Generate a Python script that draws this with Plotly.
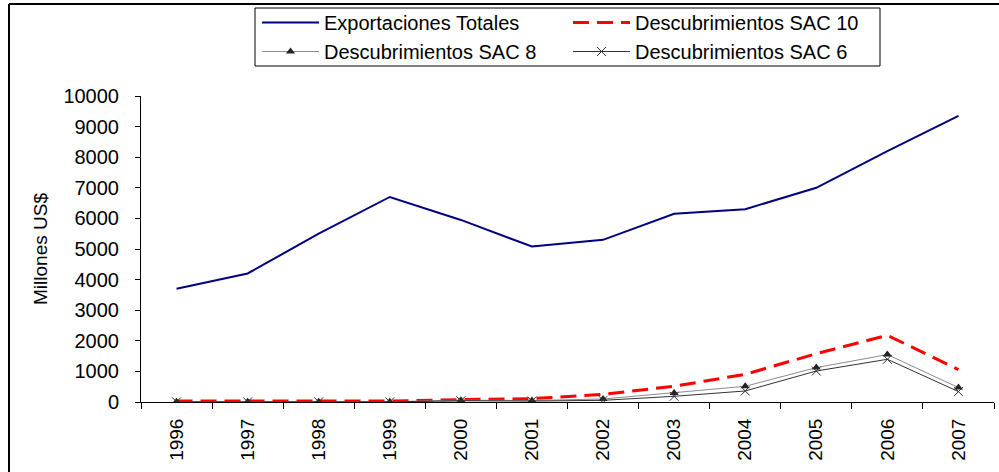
import plotly.graph_objects as go

# datos (millones US$)
anios = ["1996", "1997", "1998", "1999", "2000", "2001", "2002", "2003", "2004", "2005", "2006", "2007"]
export_totales = [3700, 4200, 5500, 6700, 5950, 5080, 5300, 6150, 6300, 7000, 8200, 9350]
sac_10 = [33, 33, 33, 33, 78, 110, 250, 513, 905, 1580, 2180, 1060]
sac_8 = [10, 10, 10, 10, 60, 50, 98, 294, 513, 1124, 1550, 470]
sac_6 = [5, 5, 5, 5, 40, 30, 55, 186, 360, 1013, 1395, 340]

FONT = "Liberation Sans, Arial, sans-serif"

# area de trazado en pixeles (lienzo 999x472)
W, H = 999, 472
L, R, T, B = 141, 5, 96, 70
pw, ph = W - L - R, H - T - B

def px_x(x):
    return (x - L) / pw

def px_y(y):
    return (H - B - y) / ph

fig = go.Figure()
fig.add_trace(go.Scatter(
    x=anios, y=export_totales, name="Exportaciones Totales", mode="lines",
    line=dict(color="#000080", width=2)
))
fig.add_trace(go.Scatter(
    x=anios, y=sac_10, name="Descubrimientos SAC 10", mode="lines",
    line=dict(color="#ff0000", width=3, dash="16px,8px")
))
fig.add_trace(go.Scatter(
    x=anios, y=sac_8, name="Descubrimientos SAC 8", mode="lines+markers",
    line=dict(color="#8c8c8c", width=1),
    marker=dict(symbol="triangle-up", size=8, color="#222222")
))
fig.add_trace(go.Scatter(
    x=anios, y=sac_6, name="Descubrimientos SAC 6", mode="lines+markers",
    line=dict(color="#333333", width=1),
    marker=dict(symbol="x-thin-open", size=9, line=dict(color="#222222", width=1))
))

fig.update_xaxes(
    type="category", range=[-0.5, 11.5], tickson="boundaries",
    showline=True, linecolor="black", linewidth=1,
    ticks="outside", ticklen=6, tickcolor="black",
    tickangle=-90, tickfont=dict(size=19, color="black"), ticklabelstandoff=8,
    showgrid=False, zeroline=False
)
fig.update_yaxes(
    range=[0, 10000], dtick=1000, tickformat="d",
    showline=True, linecolor="black", linewidth=1,
    ticks="outside", ticklen=5, tickcolor="black",
    tickfont=dict(size=20, color="black"), ticklabelstandoff=12,
    showgrid=False, zeroline=False,
    title=dict(text="Millones US$", font=dict(size=19, color="black"), standoff=10)
)

# marco exterior (recortado a la derecha y abajo)
fig.add_shape(type="line", xref="paper", yref="paper",
              x0=px_x(9), x1=px_x(1010), y0=px_y(4), y1=px_y(4),
              line=dict(color="black", width=2))
fig.add_shape(type="line", xref="paper", yref="paper",
              x0=px_x(9), x1=px_x(9), y0=px_y(4), y1=px_y(480),
              line=dict(color="black", width=2))
# caja de la leyenda
fig.add_shape(type="rect", xref="paper", yref="paper",
              x0=px_x(255), x1=px_x(880), y0=px_y(8), y1=px_y(66),
              line=dict(color="black", width=1))

fig.update_layout(
    width=W, height=H,
    margin=dict(l=L, r=R, t=T, b=B, autoexpand=False),
    paper_bgcolor="white", plot_bgcolor="white",
    font=dict(family=FONT, size=20, color="black"),
    legend=dict(
        orientation="h", x=px_x(257), y=px_y(37), xanchor="left", yanchor="middle",
        borderwidth=0, bgcolor="rgba(0,0,0,0)",
        entrywidth=239, entrywidthmode="pixels", itemwidth=57,
        font=dict(size=20, color="black"), tracegroupgap=0
    ),
    showlegend=True
)

fig.write_html("out.html", config={"displayModeBar": False},
               post_script="document.body.style.margin='0';")
